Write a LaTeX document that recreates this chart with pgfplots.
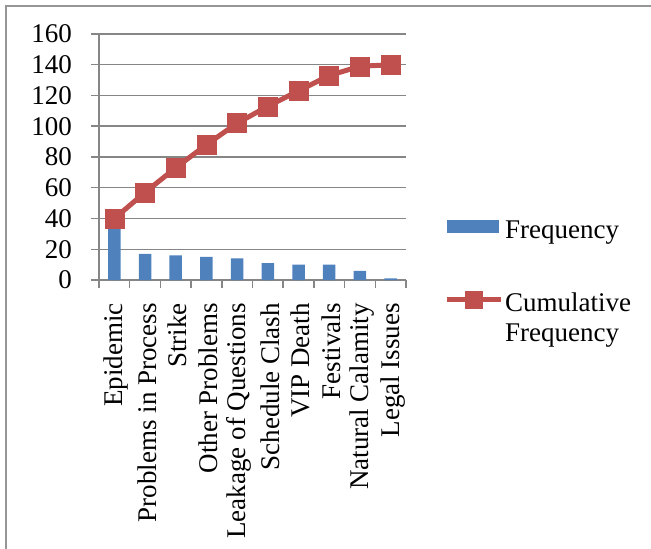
\documentclass[border=0pt]{standalone}
\usepackage{pgfplots}
\pgfplotsset{compat=1.18}
\usepackage{pgfplotstable}
\usepackage{fontspec}
\setmainfont{Liberation Serif}

\definecolor{barblue}{RGB}{79,129,189}
\definecolor{linered}{RGB}{192,80,77}
\definecolor{gridgray}{RGB}{134,134,134}
\definecolor{framegray}{RGB}{150,150,150}

% Pareto data: frequency per cause and running total
\pgfplotstableread{
idx freq cum
0   40   40
1   17   57
2   16   73
3   15   88
4   14   102
5   11   113
6   10   123
7   10   133
8   6    139
9   1    140
}\paretodata

\begin{document}
\begin{tikzpicture}[font=\fontsize{27}{30}\selectfont]
\path[use as bounding box] (0,0) rectangle (651pt,549pt);
\draw[framegray, line width=2pt] (6pt,0) -- (6pt,543pt) -- (651pt,543pt);
\begin{axis}[
  scale only axis,
  width=307pt, height=246pt,
  at={(99pt,269pt)}, anchor=south west,
  xmin=-0.5, xmax=9.5, ymin=0, ymax=160,
  ytick={0,20,...,160},
  xtick={-0.5,0.5,...,9.5},
  xticklabels={},
  extra x ticks={0,1,...,9},
  extra x tick labels={Epidemic, Problems in Process, Strike, Other Problems, Leakage of Questions, Schedule Clash, VIP Death, Festivals, Natural Calamity, Legal Issues},
  extra x tick style={major tick length=0pt, tick style={draw=none},
    tick label style={yshift=-23pt, xshift=2pt, rotate=90, anchor=east, inner sep=0pt}},
  axis lines=left,
  axis line style={-, draw=gridgray, line width=1.5pt},
  ymajorgrids,
  grid style={draw=gridgray, line width=1.5pt},
  tick align=outside,
  major tick length=8pt,
  tick style={draw=gridgray, line width=1.5pt},
  /pgf/number format/assume math mode=true,
  yticklabel style={anchor=east, inner sep=0pt, xshift=-19pt},
  legend style={at={(1.124,0.2825)}, anchor=north west, draw=none, fill=none,
    inner sep=0pt, outer sep=0pt, row sep=37pt, column sep=2pt,
    nodes={inner sep=0pt, align=left}},
  legend cell align=left,
]
\addplot[ybar, bar width=12.5pt, bar shift=0pt, fill=barblue, draw=none,
  legend image code/.code={
    \path[draw=none, fill=none] (0pt,-20pt) rectangle (52pt,20pt);
    \fill[barblue] (0pt,-2.75pt) rectangle (52pt,10.25pt);}]
  table[x=idx, y=freq] {\paretodata};
\addlegendentry{Frequency}
\addplot[linered, line width=5pt, mark=square*, mark size=9.5pt,
  mark options={line width=0.5pt, fill=linered, draw=linered},
  legend image code/.code={
    \path[draw=none, fill=none] (0pt,-30pt) rectangle (54pt,30pt);
    \draw[linered, line width=5pt] (0pt,17.75pt) -- (54pt,17.75pt);
    \draw[linered, line width=0.5pt, mark=square*, mark size=8.5pt, mark options={fill=linered}, only marks]
      plot coordinates {(27pt,17.75pt)};}]
  table[x=idx, y=cum] {\paretodata};
\addlegendentry{Cumulative\\Frequency}
\end{axis}
\end{tikzpicture}
\end{document}
